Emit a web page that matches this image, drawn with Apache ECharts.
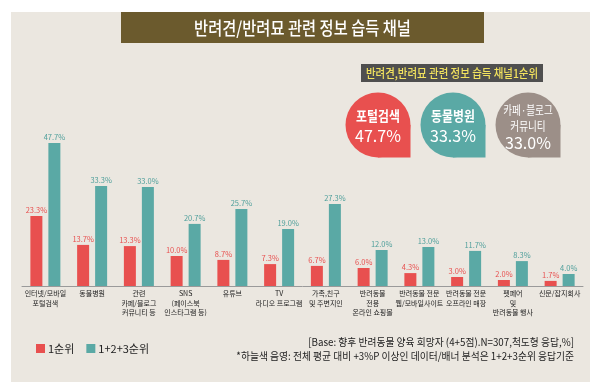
<!DOCTYPE html>
<html>
<head>
<meta charset="utf-8">
<script src="https://cdn.jsdelivr.net/npm/echarts@6/dist/echarts.min.js"></script>
<style>html,body{margin:0;padding:0;background:#fff;}#c{width:600px;height:390px;}</style>
</head>
<body>
<div id="c"></div>
<script>
const categories = [
  "인터넷/모바일\n포털검색",
  "동물병원",
  "관련\n카페/블로그\n커뮤니티 등",
  "SNS\n(페이스북\n인스타그램 등)",
  "유튜브",
  "TV\n라디오 프로그램",
  "가족,친구\n및 주변지인",
  "반려동물\n전용\n온라인 쇼핑몰",
  "반려동물 전문\n웹/모바일사이트",
  "반려동물 전문\n오프라인 매장",
  "펫페어\n및\n반려동물 행사",
  "신문/잡지회사"
];
const seriesNames = ["1순위", "1+2+3순위"];
const rank1 = [23.3, 13.7, 13.3, 10.0, 8.7, 7.3, 6.7, 6.0, 4.3, 3.0, 2.0, 1.7];
const rank123 = [47.7, 33.3, 33.0, 20.7, 25.7, 19.0, 27.3, 12.0, 13.0, 11.7, 8.3, 4.0];
const titleText = "반려견/반려묘 관련 정보 습득 채널";
const subtitleText = "반려견,반려묘 관련 정보 습득 채널1순위";
const bubbleLabels = [["포털검색"], ["동물병원"], ["카페·블로그", "커뮤니티"]];
const bubbleValues = ["47.7%", "33.3%", "33.0%"];
const noteLines = [
  "[Base: 향후 반려동물 양육 희망자 (4+5점).N=307,척도형 응답,%]",
  "*하늘색 음영: 전체 평균 대비 +3%P 이상인 데이터/배너 분석은 1+2+3순위 응답기준"
];

const RED = "#E8504F", TEAL = "#5AA9A5", GRAY = "#9C8F88";
const FONT = "'Noto Sans CJK KR', 'Noto Sans', sans-serif";

const graphics = [
  { type: 'rect', z: -10, shape: { x: 11, y: 12, width: 579, height: 370 }, style: { fill: '#EBE7E0' } },
  { type: 'rect', shape: { x: 121, y: 12, width: 363, height: 31 }, style: { fill: '#6B5A2D' } },
  { type: 'text', x: 302.5, y: 28, scaleX: 0.85, style: { text: titleText, fill: '#fff', font: "500 18px " + FONT, align: 'center', verticalAlign: 'middle' } },
  { type: 'rect', shape: { x: 361, y: 64, width: 182, height: 18 }, style: { fill: '#4F4F4F' } },
  { type: 'text', x: 452, y: 73, scaleX: 0.87, style: { text: subtitleText, fill: '#F3E35E', font: "500 12px " + FONT, align: 'center', verticalAlign: 'middle' } }
];
const bubbleColors = [RED, TEAL, GRAY];
const bubbleX = [378, 453, 528];
const R = 32.5, CY = 125;
bubbleX.forEach((cx, i) => {
  graphics.push({ type: 'circle', shape: { cx: cx, cy: CY, r: R }, style: { fill: bubbleColors[i] } });
  graphics.push({ type: 'rect', shape: { x: cx, y: CY, width: R, height: R }, style: { fill: bubbleColors[i] } });
  if (bubbleLabels[i].length === 1) {
    graphics.push({ type: 'text', z: 5, x: cx, y: 116, scaleX: 0.85, style: { text: bubbleLabels[i][0], fill: '#fff', font: "bold 14px " + FONT, align: 'center', verticalAlign: 'middle' } });
    graphics.push({ type: 'text', z: 5, x: cx, y: 135.5, style: { text: bubbleValues[i], fill: '#fff', font: "16px " + FONT, align: 'center', verticalAlign: 'middle' } });
  } else {
    graphics.push({ type: 'text', z: 5, x: cx, y: 110, scaleX: 0.8, style: { text: bubbleLabels[i][0], fill: '#fff', font: "12px " + FONT, align: 'center', verticalAlign: 'middle' } });
    graphics.push({ type: 'text', z: 5, x: cx, y: 126, scaleX: 0.8, style: { text: bubbleLabels[i][1], fill: '#fff', font: "12px " + FONT, align: 'center', verticalAlign: 'middle' } });
    graphics.push({ type: 'text', z: 5, x: cx, y: 143, style: { text: bubbleValues[i], fill: '#fff', font: "16px " + FONT, align: 'center', verticalAlign: 'middle' } });
  }
});
graphics.push({ type: 'text', x: 574, y: 342, scaleX: 0.93, style: { text: noteLines[0], fill: '#222', font: "10.5px " + FONT, align: 'right', verticalAlign: 'middle' } });
graphics.push({ type: 'text', x: 574, y: 356, scaleX: 0.93, style: { text: noteLines[1], fill: '#222', font: "10.5px " + FONT, align: 'right', verticalAlign: 'middle' } });

const chart = echarts.init(document.getElementById('c'), null, { renderer: 'canvas' });
chart.setOption({
  backgroundColor: '#fff',
  animation: false,
  textStyle: { fontFamily: FONT },
  graphic: graphics,
  legend: {
    left: 31, top: 338, itemWidth: 9, itemHeight: 9, itemGap: 12,
    icon: 'rect',
    data: seriesNames,
    textStyle: { fontSize: 11, color: '#222', padding: [0, 0, 0, -2] }
  },
  grid: { left: 22, right: 17, top: 136, bottom: 104, containLabel: false },
  xAxis: {
    type: 'category',
    data: categories,
    axisLine: { lineStyle: { color: '#9A9A9A', width: 1 } },
    axisTick: { show: false },
    axisLabel: { interval: 0, fontSize: 7, lineHeight: 9.5, color: '#222', margin: 3, hideOverlap: false }
  },
  yAxis: {
    type: 'value', min: 0, max: 50, show: false, splitLine: { show: false }
  },
  series: [
    {
      name: seriesNames[0], type: 'bar', data: rank1, barWidth: 12, barGap: '50%',
      itemStyle: { color: RED },
      label: { show: true, position: 'top', distance: 2, fontSize: 7.5, color: RED, formatter: p => p.value.toFixed(1) + '%' }
    },
    {
      name: seriesNames[1], type: 'bar', data: rank123, barWidth: 12,
      itemStyle: { color: TEAL },
      label: { show: true, position: 'top', distance: 2, fontSize: 7.5, color: '#4F9F9B', formatter: p => p.value.toFixed(1) + '%' }
    }
  ]
});
</script>
</body>
</html>
